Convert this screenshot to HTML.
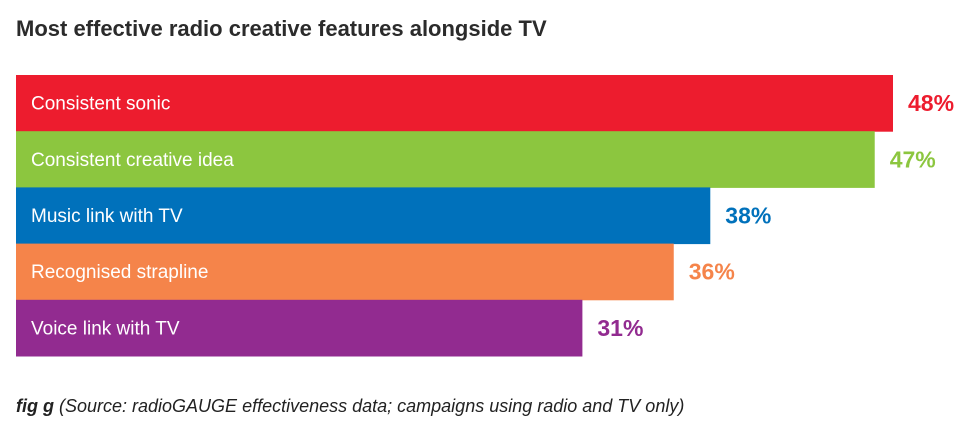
<!DOCTYPE html>
<html><head><meta charset="utf-8"><style>
body{margin:0;background:#fff;width:973px;height:439px;overflow:hidden;font-family:"Liberation Sans",sans-serif}
</style></head><body>
<svg width="973" height="439">
<text x="16" y="36" font-size="22" font-weight="bold" fill="#2b2b2b">Most effective radio creative features alongside TV</text>
<g id="bars"></g>
<text x="16" y="412" font-size="18" font-style="italic" fill="#222"><tspan font-weight="bold">fig g</tspan> (Source: radioGAUGE effectiveness data; campaigns using radio and TV only)</text>
</svg>
<script>
const categories=["Consistent sonic","Consistent creative idea","Music link with TV","Recognised strapline","Voice link with TV"];
const values=[48,47,38,36,31];
const valueLabels=["48%","47%","38%","36%","31%"];
const colors=["#ed1c2e","#8cc63f","#0071bb","#f5844a","#922b90"];
const x0=16, perUnit=(893-16)/48, y0=75, band=56.2;
const xs=v=>x0+v*perUnit;
const ys=i=>y0+i*band;
const g=document.getElementById('bars');
const NS="http://www.w3.org/2000/svg";
categories.forEach((c,i)=>{
  const r=document.createElementNS(NS,'rect');
  
  
  r.setAttribute('x',x0);r.setAttribute('y',ys(i));
  r.setAttribute('width',xs(values[i])-x0);r.setAttribute('height',band+0.5);
  r.setAttribute('fill',colors[i]);g.appendChild(r);
  const t=document.createElementNS(NS,'text');
  
  
  t.setAttribute('x',31);t.setAttribute('y',ys(i)+band/2+6.5);
  t.setAttribute('font-size','19');t.setAttribute('fill','#fff');
  t.textContent=c;g.appendChild(t);
  const v=document.createElementNS(NS,'text');
  
  
  v.setAttribute('x',xs(values[i])+15);v.setAttribute('y',ys(i)+band/2+8);
  v.setAttribute('font-size','23');v.setAttribute('font-weight','bold');
  v.setAttribute('fill',colors[i]);
  v.textContent=valueLabels[i];g.appendChild(v);
});
</script>
</body></html>
